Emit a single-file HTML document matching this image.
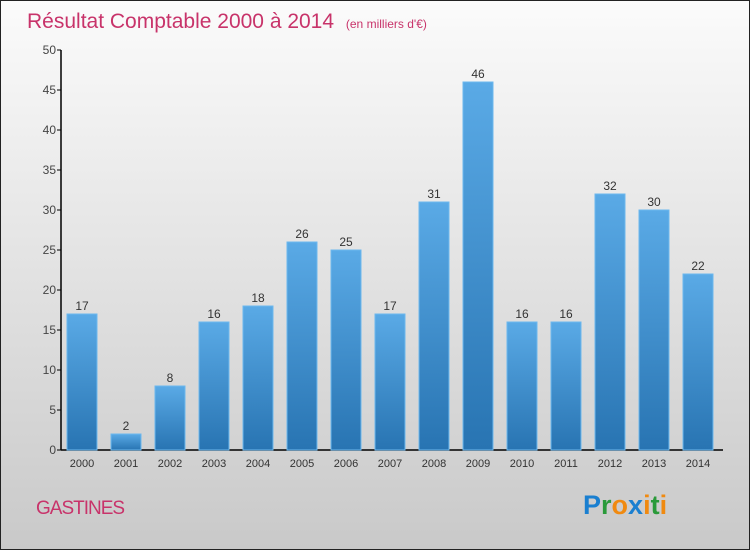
<!DOCTYPE html>
<html><head><meta charset="utf-8"><style>
body{margin:0}
#c{position:relative;width:748px;height:548px;border:1px solid #222;background:linear-gradient(#fbfbfb,#c9c9c9);font-family:"Liberation Sans",sans-serif;overflow:hidden}
</style></head><body>
<div id="c">
<svg width="748" height="548">
<defs><linearGradient id="bg" x1="0" y1="0" x2="0" y2="1"><stop offset="0" stop-color="#5aaae6"/><stop offset="1" stop-color="#2874b2"/></linearGradient></defs>
<text x="26" y="27" font-size="21" fill="#c8336a">Résultat Comptable 2000 à 2014 <tspan font-size="12" dx="6">(en milliers d'€)</tspan></text>
<g id="ax"></g><g id="bars"></g>
<text x="35" y="513" font-size="19" fill="#c8336a" letter-spacing="-1">GASTINES</text>
<text x="582" y="513" font-size="27" font-weight="bold"><tspan fill="#1a7fd0">P</tspan><tspan fill="#2a9a3a">r</tspan><tspan fill="#f08a10">o</tspan><tspan fill="#1a7fd0">x</tspan><tspan fill="#f08a10">i</tspan><tspan fill="#2a9a3a">t</tspan><tspan fill="#f08a10">i</tspan></text>
</svg></div>
<script>
const years=["2000","2001","2002","2003","2004","2005","2006","2007","2008","2009","2010","2011","2012","2013","2014"];
const values=[17,2,8,16,18,26,25,17,31,46,16,16,32,30,22];
const yTicks=[0,5,10,15,20,25,30,35,40,45,50];
const NS="http://www.w3.org/2000/svg";
const y=v=>449-v*8, x=i=>81+i*44;
function mk(t,a,p,txt){const e=document.createElementNS(NS,t);for(const k in a)e.setAttribute(k,a[k]);if(txt!=null)e.textContent=txt;p.appendChild(e);return e;}
const ax=document.getElementById('ax'),bg=document.getElementById('bars');
let e=mk('line',{x1:60,y1:49,x2:60,y2:449,stroke:'#000','stroke-width':1.5},ax);

e=mk('line',{x1:60,y1:449,x2:722,y2:449,stroke:'#000','stroke-width':1.5},ax);

yTicks.forEach(t=>{mk('line',{x1:56,y1:y(t),x2:60,y2:y(t),stroke:'#000'},ax);
e=mk('text',{x:55,y:y(t)+4,'text-anchor':'end','font-size':12,fill:'#444'},ax,t);
});
years.forEach((yr,i)=>{
e=mk('rect',{x:x(i)-15,y:y(values[i]),width:30,height:values[i]*8,fill:'url(#bg)',stroke:'#6cb8ee','stroke-width':1},bg);

e=mk('text',{x:x(i),y:y(values[i])-4,'text-anchor':'middle','font-size':12,fill:'#333'},bg,values[i]);

e=mk('text',{x:x(i),y:466,'text-anchor':'middle','font-size':11,fill:'#333'},ax,yr);

});
</script></body></html>
